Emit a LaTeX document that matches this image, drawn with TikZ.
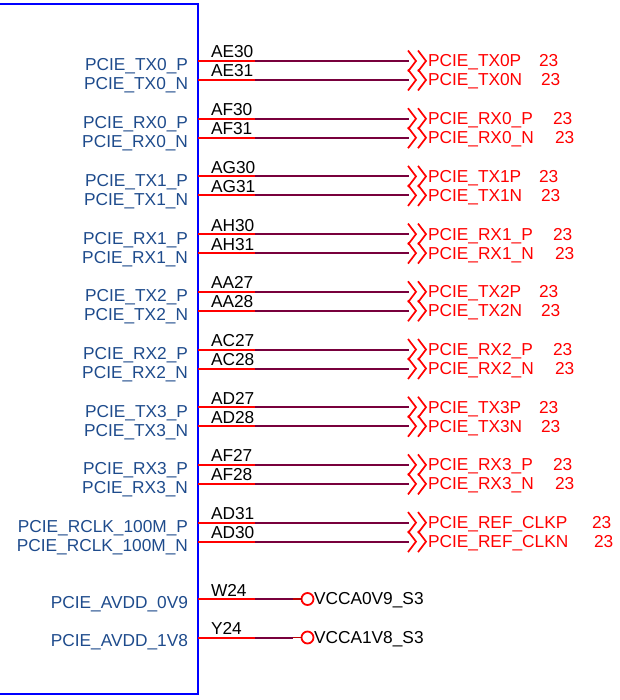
\documentclass[tikz,border=0pt]{standalone}
\usepackage{fontspec}
\setmainfont{Liberation Sans}
\definecolor{netblue}{RGB}{30,75,140}
\definecolor{wirecol}{RGB}{120,0,60}
\begin{document}
\begin{tikzpicture}[x=1pt,y=-1pt,
  every node/.style={inner sep=0pt,outer sep=0pt,font=\fontsize{17.3}{20}\selectfont},
  chipbox/.style={draw=blue,line width=2pt},
  pinline/.style={draw=red,line width=2pt},
  wireline/.style={draw=wirecol,line width=2pt},
  offpage/.style={draw=red,line width=1.7pt},
  pinname/.style={anchor=base east,text=netblue},
  pinnum/.style={anchor=base west,text=black},
  netname/.style={anchor=base west,text=red},
  pwrname/.style={anchor=base west,text=black},
  pwrcirc/.style={circle,draw=red,line width=1.8pt,minimum size=12pt}]
\useasboundingbox (0,0) rectangle (619,700);
\node[chipbox,minimum width=220pt,minimum height=690pt,anchor=north east] (chip) at (198,4) {};
\foreach \i/\nm/\pa/\pb/\ta/\tb/\xa/\xb in {
  0/TX0/AE30/AE31/PCIE\_TX0P/PCIE\_TX0N/539/541,
  1/RX0/AF30/AF31/PCIE\_RX0\_P/PCIE\_RX0\_N/553/555,
  2/TX1/AG30/AG31/PCIE\_TX1P/PCIE\_TX1N/539/541,
  3/RX1/AH30/AH31/PCIE\_RX1\_P/PCIE\_RX1\_N/553/555,
  4/TX2/AA27/AA28/PCIE\_TX2P/PCIE\_TX2N/539/541,
  5/RX2/AC27/AC28/PCIE\_RX2\_P/PCIE\_RX2\_N/553/555,
  6/TX3/AD27/AD28/PCIE\_TX3P/PCIE\_TX3N/539/541,
  7/RX3/AF27/AF28/PCIE\_RX3\_P/PCIE\_RX3\_N/553/555,
  8/RCLK\_100M/AD31/AD30/PCIE\_REF\_CLKP/PCIE\_REF\_CLKN/592/594}{
  \pgfmathsetmacro\ya{61+57.7*\i}
  \pgfmathsetmacro\yb{\ya+19}
  \foreach \s/\y/\pn/\tn/\xn in {P/\ya/\pa/\ta/\xa, N/\yb/\pb/\tb/\xb}{
    \coordinate (p\s\i) at (198,\y);
    \coordinate (m\s\i) at (255,\y);
    \coordinate (e\s\i) at (409,\y);
    \node[pinname] (lab\s\i) at (188,\y+10) {PCIE\_\nm\_\s};
    \node[pinnum] (num\s\i) at (211,\y-3) {\pn};
    \node[netname] (net\s\i) at (428,\y+6) {\tn};
    \node[netname] (pg\s\i) at (\xn,\y+6) {23};
    \draw[pinline] (p\s\i) -- (m\s\i);
    \draw[wireline] (m\s\i) -- (e\s\i);
    \draw[offpage] (e\s\i) ++(-1,-10.5) -- ++(8,10.5) -- ++(-8,10.5)
                   ++(10,-21) -- ++(8,10.5) -- ++(-8,10.5);
  }
}
\foreach \j/\y/\pn/\nm/\vn in {0/599/W24/0V9/VCCA0V9\_S3, 1/637.5/Y24/1V8/VCCA1V8\_S3}{
  \coordinate (pp\j) at (198,\y);
  \coordinate (pm\j) at (255,\y);
  \coordinate (pe\j) at (293,\y);
  \node[pwrcirc] (pc\j) at (307.5,\y) {};
  \node[pinname] (plab\j) at (188,\y+9) {PCIE\_AVDD\_\nm};
  \node[pinnum] (pnum\j) at (211,\y-3) {\pn};
  \node[pwrname] (pv\j) at (314,\y+5.5) {\vn};
  \draw[pinline] (pp\j) -- (pm\j);
  \draw[wireline] (pm\j) -- (pe\j);
  \draw[draw=red!75!black,line width=1.6pt] (pe\j) -- (pc\j.west);
}
\end{tikzpicture}
\end{document}
